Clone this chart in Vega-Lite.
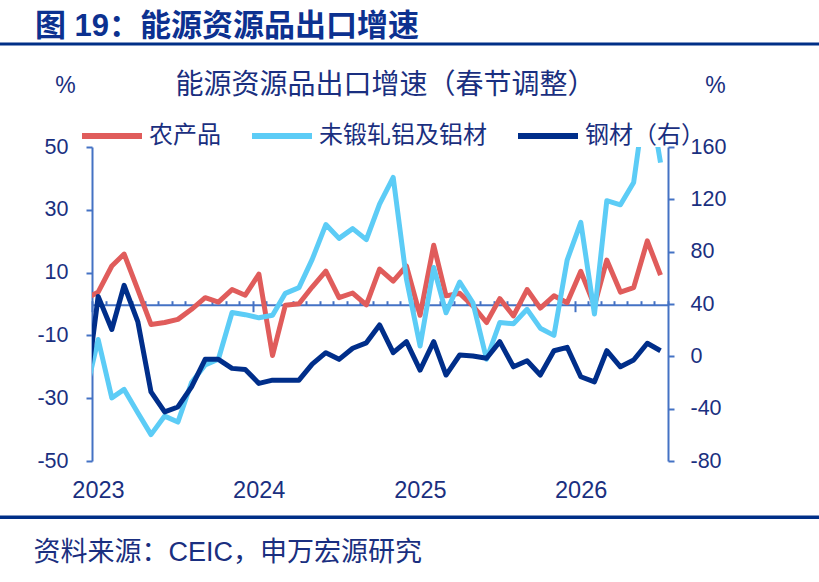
{
  "$schema": "https://vega.github.io/schema/vega-lite/v6.json",
  "width": 576,
  "height": 314,
  "autosize": "none",
  "padding": {"left": 92, "top": 147, "right": 151, "bottom": 121},
  "background": "white",
  "title": {
    "text": "图 19：能源资源品出口增速",
    "anchor": "start",
    "frame": "group",
    "dx": -57,
    "offset": 0,
    "fontSize": 31,
    "fontWeight": "bold",
    "color": "#0C3190",
    "font": "Liberation Sans, Noto Sans CJK SC"
  },
  "data": {
    "values": [
      {"date": "2022-12-15", "series": "农产品", "value": 1.4},
      {"date": "2023-01-15", "series": "农产品", "value": 3.8},
      {"date": "2023-02-15", "series": "农产品", "value": 12.1},
      {"date": "2023-03-15", "series": "农产品", "value": 15.9},
      {"date": "2023-04-15", "series": "农产品", "value": 4.6},
      {"date": "2023-05-15", "series": "农产品", "value": -6.5},
      {"date": "2023-06-15", "series": "农产品", "value": -5.9},
      {"date": "2023-07-15", "series": "农产品", "value": -4.9},
      {"date": "2023-08-15", "series": "农产品", "value": -1.7},
      {"date": "2023-09-15", "series": "农产品", "value": 2.0},
      {"date": "2023-10-15", "series": "农产品", "value": 0.6},
      {"date": "2023-11-15", "series": "农产品", "value": 4.6},
      {"date": "2023-12-15", "series": "农产品", "value": 2.8},
      {"date": "2024-01-15", "series": "农产品", "value": 9.5},
      {"date": "2024-02-15", "series": "农产品", "value": -16.4},
      {"date": "2024-03-15", "series": "农产品", "value": -0.4},
      {"date": "2024-04-15", "series": "农产品", "value": 0.1},
      {"date": "2024-05-15", "series": "农产品", "value": 5.4},
      {"date": "2024-06-15", "series": "农产品", "value": 10.5},
      {"date": "2024-07-15", "series": "农产品", "value": 2.0},
      {"date": "2024-08-15", "series": "农产品", "value": 3.5},
      {"date": "2024-09-15", "series": "农产品", "value": -0.3},
      {"date": "2024-10-15", "series": "农产品", "value": 11.1},
      {"date": "2024-11-15", "series": "农产品", "value": 7.3},
      {"date": "2024-12-15", "series": "农产品", "value": 12.1},
      {"date": "2025-01-15", "series": "农产品", "value": -3.6},
      {"date": "2025-02-15", "series": "农产品", "value": 18.7},
      {"date": "2025-03-15", "series": "农产品", "value": 2.6},
      {"date": "2025-04-15", "series": "农产品", "value": 3.4},
      {"date": "2025-05-15", "series": "农产品", "value": -0.6},
      {"date": "2025-06-15", "series": "农产品", "value": -5.9},
      {"date": "2025-07-15", "series": "农产品", "value": 1.7},
      {"date": "2025-08-15", "series": "农产品", "value": -3.8},
      {"date": "2025-09-15", "series": "农产品", "value": 4.6},
      {"date": "2025-10-15", "series": "农产品", "value": -1.3},
      {"date": "2025-11-15", "series": "农产品", "value": 2.6},
      {"date": "2025-12-15", "series": "农产品", "value": 0.4},
      {"date": "2026-01-15", "series": "农产品", "value": 10.4},
      {"date": "2026-02-15", "series": "农产品", "value": -0.5},
      {"date": "2026-03-15", "series": "农产品", "value": 14.0},
      {"date": "2026-04-15", "series": "农产品", "value": 3.8},
      {"date": "2026-05-15", "series": "农产品", "value": 5.2},
      {"date": "2026-06-15", "series": "农产品", "value": 20.1},
      {"date": "2026-07-15", "series": "农产品", "value": 9.2},
      {"date": "2022-12-15", "series": "未锻轧铝及铝材", "value": -30},
      {"date": "2023-01-15", "series": "未锻轧铝及铝材", "value": -11.3},
      {"date": "2023-02-15", "series": "未锻轧铝及铝材", "value": -29.9},
      {"date": "2023-03-15", "series": "未锻轧铝及铝材", "value": -27.2},
      {"date": "2023-04-15", "series": "未锻轧铝及铝材", "value": -34.6},
      {"date": "2023-05-15", "series": "未锻轧铝及铝材", "value": -41.6},
      {"date": "2023-06-15", "series": "未锻轧铝及铝材", "value": -35.7},
      {"date": "2023-07-15", "series": "未锻轧铝及铝材", "value": -37.6},
      {"date": "2023-08-15", "series": "未锻轧铝及铝材", "value": -25.0},
      {"date": "2023-09-15", "series": "未锻轧铝及铝材", "value": -19.4},
      {"date": "2023-10-15", "series": "未锻轧铝及铝材", "value": -17.6},
      {"date": "2023-11-15", "series": "未锻轧铝及铝材", "value": -2.7},
      {"date": "2023-12-15", "series": "未锻轧铝及铝材", "value": -3.4},
      {"date": "2024-01-15", "series": "未锻轧铝及铝材", "value": -4.4},
      {"date": "2024-02-15", "series": "未锻轧铝及铝材", "value": -3.6},
      {"date": "2024-03-15", "series": "未锻轧铝及铝材", "value": 3.4},
      {"date": "2024-04-15", "series": "未锻轧铝及铝材", "value": 5.2},
      {"date": "2024-05-15", "series": "未锻轧铝及铝材", "value": 14.2},
      {"date": "2024-06-15", "series": "未锻轧铝及铝材", "value": 25.3},
      {"date": "2024-07-15", "series": "未锻轧铝及铝材", "value": 20.9},
      {"date": "2024-08-15", "series": "未锻轧铝及铝材", "value": 24.0},
      {"date": "2024-09-15", "series": "未锻轧铝及铝材", "value": 20.5},
      {"date": "2024-10-15", "series": "未锻轧铝及铝材", "value": 31.8},
      {"date": "2024-11-15", "series": "未锻轧铝及铝材", "value": 40.3},
      {"date": "2024-12-15", "series": "未锻轧铝及铝材", "value": 8.0},
      {"date": "2025-01-15", "series": "未锻轧铝及铝材", "value": -13.4},
      {"date": "2025-02-15", "series": "未锻轧铝及铝材", "value": 11.6},
      {"date": "2025-03-15", "series": "未锻轧铝及铝材", "value": -2.8},
      {"date": "2025-04-15", "series": "未锻轧铝及铝材", "value": 7.0},
      {"date": "2025-05-15", "series": "未锻轧铝及铝材", "value": 0.4},
      {"date": "2025-06-15", "series": "未锻轧铝及铝材", "value": -17.6},
      {"date": "2025-07-15", "series": "未锻轧铝及铝材", "value": -5.9},
      {"date": "2025-08-15", "series": "未锻轧铝及铝材", "value": -6.3},
      {"date": "2025-09-15", "series": "未锻轧铝及铝材", "value": -1.7},
      {"date": "2025-10-15", "series": "未锻轧铝及铝材", "value": -7.7},
      {"date": "2025-11-15", "series": "未锻轧铝及铝材", "value": -10.0},
      {"date": "2025-12-15", "series": "未锻轧铝及铝材", "value": 14.0},
      {"date": "2026-01-15", "series": "未锻轧铝及铝材", "value": 26.0},
      {"date": "2026-02-15", "series": "未锻轧铝及铝材", "value": -3.2},
      {"date": "2026-03-15", "series": "未锻轧铝及铝材", "value": 32.9},
      {"date": "2026-04-15", "series": "未锻轧铝及铝材", "value": 31.6},
      {"date": "2026-05-15", "series": "未锻轧铝及铝材", "value": 38.7},
      {"date": "2026-06-15", "series": "未锻轧铝及铝材", "value": 70},
      {"date": "2026-07-15", "series": "未锻轧铝及铝材", "value": 45.0},
      {"date": "2022-12-15", "series": "钢材（右）", "value": -36},
      {"date": "2023-01-15", "series": "钢材（右）", "value": 45.8},
      {"date": "2023-02-15", "series": "钢材（右）", "value": 20.5},
      {"date": "2023-03-15", "series": "钢材（右）", "value": 54.3},
      {"date": "2023-04-15", "series": "钢材（右）", "value": 26.6},
      {"date": "2023-05-15", "series": "钢材（右）", "value": -27.2},
      {"date": "2023-06-15", "series": "钢材（右）", "value": -42.5},
      {"date": "2023-07-15", "series": "钢材（右）", "value": -38.7},
      {"date": "2023-08-15", "series": "钢材（右）", "value": -23.3},
      {"date": "2023-09-15", "series": "钢材（右）", "value": -2.3},
      {"date": "2023-10-15", "series": "钢材（右）", "value": -2.3},
      {"date": "2023-11-15", "series": "钢材（右）", "value": -9.2},
      {"date": "2023-12-15", "series": "钢材（右）", "value": -10.0},
      {"date": "2024-01-15", "series": "钢材（右）", "value": -20.7},
      {"date": "2024-02-15", "series": "钢材（右）", "value": -18.2},
      {"date": "2024-03-15", "series": "钢材（右）", "value": -18.2},
      {"date": "2024-04-15", "series": "钢材（右）", "value": -18.2},
      {"date": "2024-05-15", "series": "钢材（右）", "value": -5.9},
      {"date": "2024-06-15", "series": "钢材（右）", "value": 2.8},
      {"date": "2024-07-15", "series": "钢材（右）", "value": -2.3},
      {"date": "2024-08-15", "series": "钢材（右）", "value": 6.2},
      {"date": "2024-09-15", "series": "钢材（右）", "value": 10.3},
      {"date": "2024-10-15", "series": "钢材（右）", "value": 24.0},
      {"date": "2024-11-15", "series": "钢材（右）", "value": 2.8},
      {"date": "2024-12-15", "series": "钢材（右）", "value": 11.2},
      {"date": "2025-01-15", "series": "钢材（右）", "value": -10.5},
      {"date": "2025-02-15", "series": "钢材（右）", "value": 11.2},
      {"date": "2025-03-15", "series": "钢材（右）", "value": -14.3},
      {"date": "2025-04-15", "series": "钢材（右）", "value": 1.0},
      {"date": "2025-05-15", "series": "钢材（右）", "value": 0.2},
      {"date": "2025-06-15", "series": "钢材（右）", "value": -1.5},
      {"date": "2025-07-15", "series": "钢材（右）", "value": 11.2},
      {"date": "2025-08-15", "series": "钢材（右）", "value": -8.0},
      {"date": "2025-09-15", "series": "钢材（右）", "value": -3.4},
      {"date": "2025-10-15", "series": "钢材（右）", "value": -14.3},
      {"date": "2025-11-15", "series": "钢材（右）", "value": 4.3},
      {"date": "2025-12-15", "series": "钢材（右）", "value": 6.9},
      {"date": "2026-01-15", "series": "钢材（右）", "value": -15.6},
      {"date": "2026-02-15", "series": "钢材（右）", "value": -19.5},
      {"date": "2026-03-15", "series": "钢材（右）", "value": 4.3},
      {"date": "2026-04-15", "series": "钢材（右）", "value": -8.0},
      {"date": "2026-05-15", "series": "钢材（右）", "value": -2.8},
      {"date": "2026-06-15", "series": "钢材（右）", "value": 10.0},
      {"date": "2026-07-15", "series": "钢材（右）", "value": 4.3}
    ]
  },
  "layer": [
    {
      "transform": [{"filter": "datum.series !== '钢材（右）'"}],
      "mark": {"type": "line", "strokeWidth": 5, "clip": true, "strokeJoin": "round"},
      "encoding": {
        "x": {
          "field": "date",
          "type": "temporal",
          "scale": {
            "type": "utc",
            "domain": [
              {"year": 2023, "month": 1, "date": 1, "utc": true},
              {"year": 2026, "month": 8, "date": 1, "utc": true}
            ]
          },
          "axis": {
            "orient": "bottom",
            "offset": -156.3,
            "domain": true,
            "domainColor": "#4472C4",
            "domainWidth": 2,
            "ticks": true,
            "tickColor": "#4472C4",
            "tickWidth": 2,
            "tickSize": -4,
            "tickCount": {"interval": "month", "step": 1},
            "labels": false,
            "grid": false,
            "title": null
          }
        },
        "y": {
          "field": "value",
          "type": "quantitative",
          "scale": {"domain": [-50, 50], "nice": false, "zero": false},
          "axis": {
            "orient": "left",
            "values": [-50, -30, -10, 10, 30, 50],
            "labelExpr": "'' + datum.value",
            "domainColor": "#4472C4",
            "domainWidth": 2,
            "tickColor": "#4472C4",
            "tickWidth": 2,
            "tickSize": 6,
            "labelPadding": 18,
            "labelFontSize": 21.5,
            "labelFont": "Liberation Sans",
            "labelColor": "#1A2F80",
            "grid": false,
            "title": "%",
            "titleAngle": 0,
            "titleX": -27,
            "titleY": -62,
            "titleAlign": "center",
            "titleBaseline": "middle",
            "titleFontSize": 23,
            "titleFontWeight": "normal",
            "titleFont": "Liberation Sans",
            "titleColor": "#1A2F80"
          }
        },
        "color": {
          "field": "series",
          "type": "nominal",
          "scale": {
            "domain": ["农产品", "未锻轧铝及铝材", "钢材（右）"],
            "range": ["#E05C5B", "#5CCCF6", "#002E8A"]
          },
          "legend": {
            "orient": "none",
            "legendX": -13,
            "legendY": -44,
            "direction": "horizontal",
            "title": null,
            "symbolType": "stroke",
            "symbolSize": 3600,
            "symbolStrokeWidth": 6,
            "labelFontSize": 24,
            "labelFont": "Liberation Sans, Noto Sans CJK SC",
            "labelColor": "#1A2F80",
            "labelOffset": 4,
            "labelLimit": 400,
            "columnPadding": 19
          }
        }
      }
    },
    {
      "transform": [{"filter": "datum.series === '钢材（右）'"}],
      "mark": {"type": "line", "strokeWidth": 5, "clip": true, "strokeJoin": "round"},
      "encoding": {
        "x": {
          "field": "date",
          "type": "temporal",
          "scale": {
            "type": "utc",
            "domain": [
              {"year": 2023, "month": 1, "date": 1, "utc": true},
              {"year": 2026, "month": 8, "date": 1, "utc": true}
            ]
          },
          "axis": {
            "orient": "bottom",
            "offset": -156.3,
            "domain": false,
            "ticks": true,
            "tickColor": "#4472C4",
            "tickWidth": 2,
            "tickSize": 7,
            "values": [
              {"year": 2023, "month": 1, "date": 1, "utc": true},
              {"year": 2024, "month": 1, "date": 1, "utc": true},
              {"year": 2025, "month": 1, "date": 1, "utc": true},
              {"year": 2026, "month": 1, "date": 1, "utc": true}
            ],
            "labels": false,
            "grid": false,
            "title": null
          }
        },
        "y": {
          "field": "value",
          "type": "quantitative",
          "scale": {"domain": [-80, 160], "nice": false, "zero": false},
          "axis": {
            "orient": "right",
            "values": [-80, -40, 0, 40, 80, 120, 160],
            "labelExpr": "'' + datum.value",
            "domainColor": "#4472C4",
            "domainWidth": 2,
            "tickColor": "#4472C4",
            "tickWidth": 2,
            "tickSize": 6,
            "labelPadding": 16,
            "labelFontSize": 21.5,
            "labelFont": "Liberation Sans",
            "labelColor": "#1A2F80",
            "grid": false,
            "title": "%",
            "titleAngle": 0,
            "titleX": 47,
            "titleY": -62,
            "titleAlign": "center",
            "titleBaseline": "middle",
            "titleFontSize": 23,
            "titleFontWeight": "normal",
            "titleFont": "Liberation Sans",
            "titleColor": "#1A2F80"
          }
        },
        "color": {
          "field": "series",
          "type": "nominal",
          "scale": {
            "domain": ["农产品", "未锻轧铝及铝材", "钢材（右）"],
            "range": ["#E05C5B", "#5CCCF6", "#002E8A"]
          },
          "legend": {
            "orient": "none",
            "legendX": -13,
            "legendY": -44,
            "direction": "horizontal",
            "title": null,
            "symbolType": "stroke",
            "symbolSize": 3600,
            "symbolStrokeWidth": 6,
            "labelFontSize": 24,
            "labelFont": "Liberation Sans, Noto Sans CJK SC",
            "labelColor": "#1A2F80",
            "labelOffset": 4,
            "labelLimit": 400,
            "columnPadding": 19
          }
        }
      }
    },
    {
      "data": {"values": [{}]},
      "mark": {"type": "rule", "strokeWidth": 3, "color": "#002F87"},
      "encoding": {
        "x": {
          "datum": {"year": 2022, "month": 1, "date": 1, "utc": true},
          "type": "temporal",
          "scale": {
            "type": "utc",
            "domain": [
              {"year": 2023, "month": 1, "date": 1, "utc": true},
              {"year": 2026, "month": 8, "date": 1, "utc": true}
            ]
          },
          "axis": {
            "orient": "top",
            "domain": false,
            "ticks": false,
            "labels": false,
            "grid": false,
            "title": "能源资源品出口增速（春节调整）",
            "titleFontSize": 28,
            "titleFontWeight": "normal",
            "titleFont": "Liberation Sans, Noto Sans CJK SC",
            "titleColor": "#1A2F80",
            "titleX": 293,
            "titleY": -62,
            "titleAlign": "center",
            "titleBaseline": "middle",
            "titleAngle": 0
          }
        },
        "x2": {"datum": {"year": 2028, "month": 1, "date": 1, "utc": true}},
        "y": {
          "datum": 82.8,
          "type": "quantitative",
          "scale": {"domain": [-50, 50], "nice": false, "zero": false},
          "axis": null
        }
      }
    },
    {
      "data": {"values": [{}]},
      "mark": {"type": "rule", "strokeWidth": 3.5, "color": "#002F87"},
      "encoding": {
        "x": {
          "datum": {"year": 2022, "month": 1, "date": 1, "utc": true},
          "type": "temporal",
          "scale": {
            "type": "utc",
            "domain": [
              {"year": 2023, "month": 1, "date": 1, "utc": true},
              {"year": 2026, "month": 8, "date": 1, "utc": true}
            ]
          },
          "axis": {
            "orient": "bottom",
            "domain": false,
            "ticks": false,
            "tickSize": 0,
            "grid": false,
            "values": [
              {"year": 2023, "month": 1, "date": 1, "utc": true},
              {"year": 2024, "month": 1, "date": 1, "utc": true},
              {"year": 2025, "month": 1, "date": 1, "utc": true},
              {"year": 2026, "month": 1, "date": 1, "utc": true}
            ],
            "format": "%Y",
            "labelFlush": false,
            "labelOffset": 6,
            "labelPadding": 17,
            "labelFontSize": 23.5,
            "labelFont": "Liberation Sans",
            "labelColor": "#1A2F80",
            "title": "资料来源：CEIC，申万宏源研究",
            "titleFontSize": 27,
            "titleFontWeight": "normal",
            "titleFont": "Liberation Sans, Noto Sans CJK SC",
            "titleColor": "#1A2F80",
            "titleX": -59,
            "titleY": 91,
            "titleAlign": "left",
            "titleBaseline": "middle",
            "titleAngle": 0
          }
        },
        "x2": {"datum": {"year": 2028, "month": 1, "date": 1, "utc": true}},
        "y": {
          "datum": -67.9,
          "type": "quantitative",
          "scale": {"domain": [-50, 50], "nice": false, "zero": false},
          "axis": null
        }
      }
    }
  ],
  "resolve": {
    "scale": {"y": "independent"},
    "axis": {"x": "independent", "y": "independent"}
  },
  "config": {
    "view": {"stroke": null},
    "axis": {"grid": false}
  }
}
